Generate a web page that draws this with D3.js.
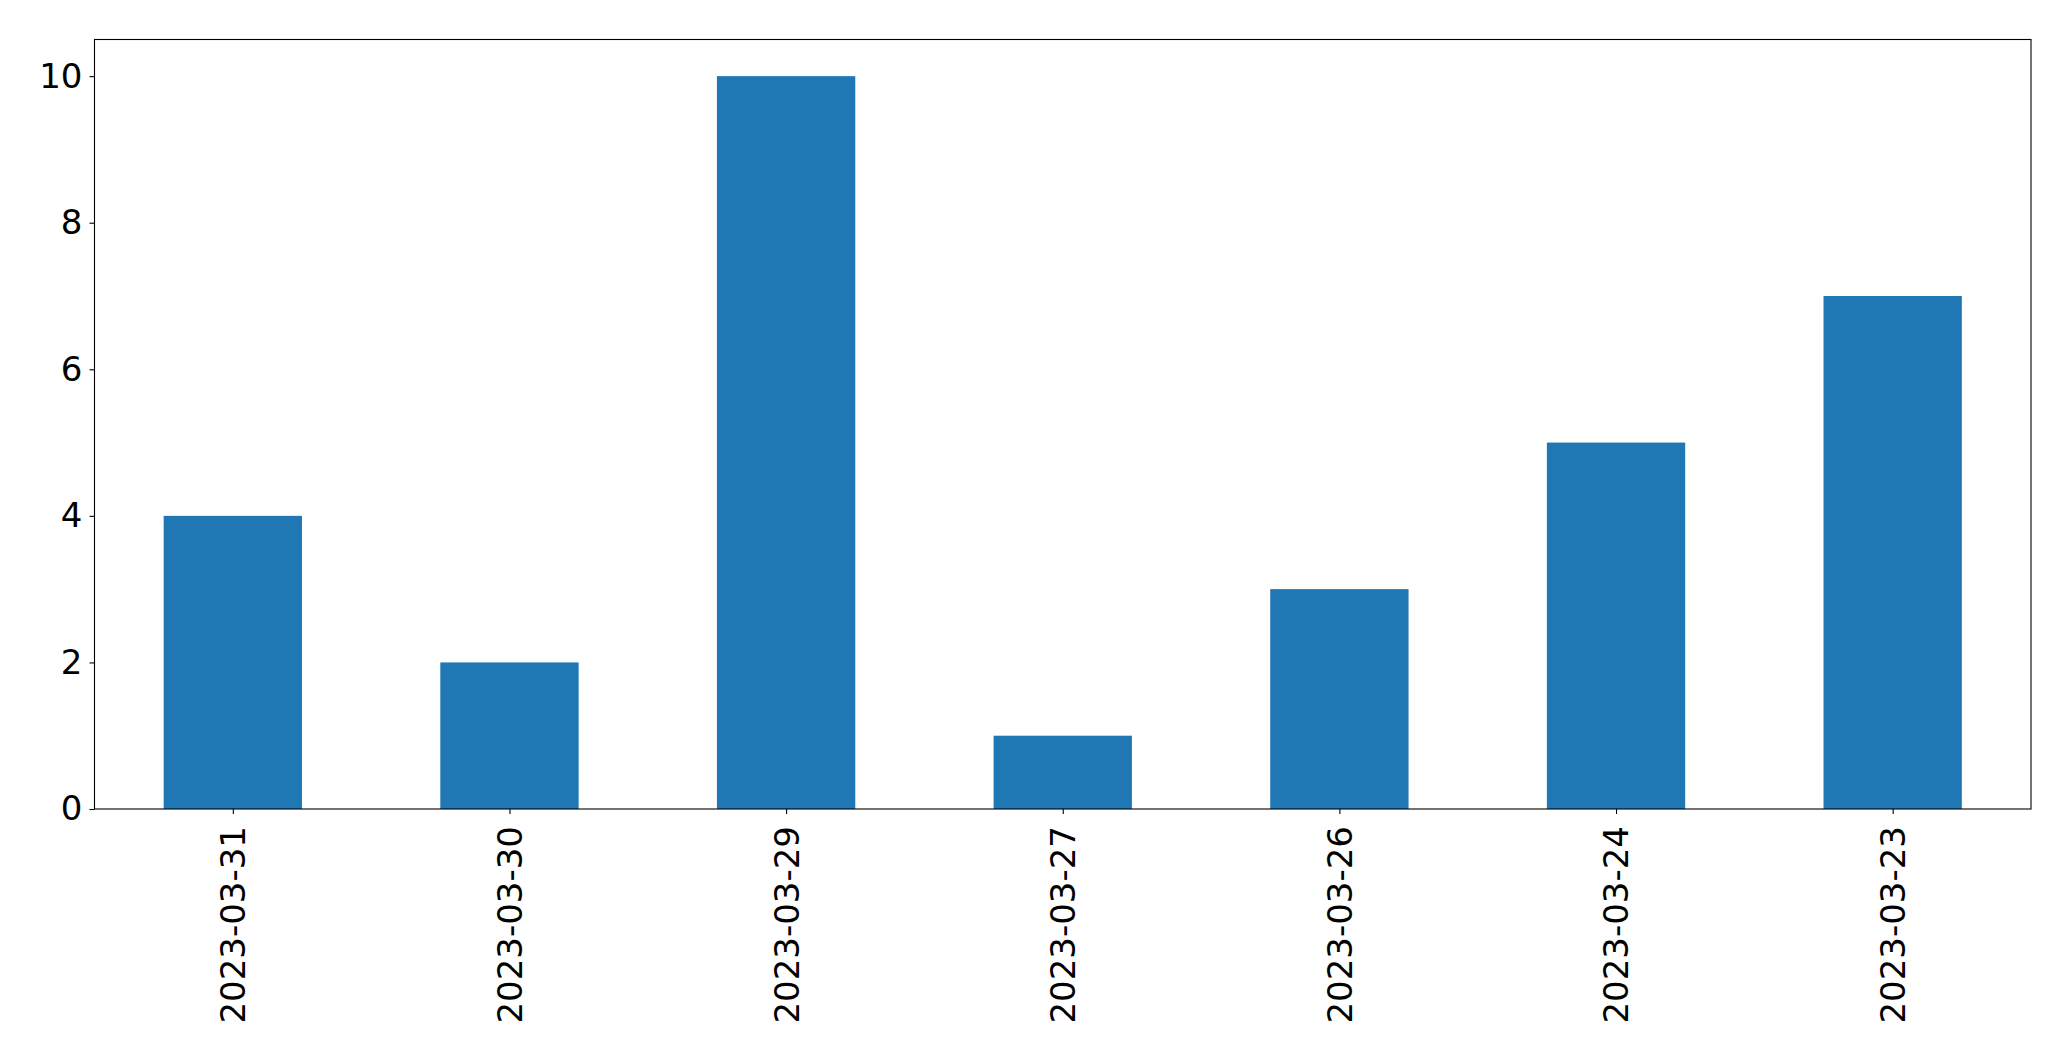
<!DOCTYPE html>
<html><head><meta charset="utf-8">
<script src="https://cdn.jsdelivr.net/npm/d3@7"></script>
<style>body{margin:0;background:#fff}svg{display:block}</style>
</head><body>
<script>
const categories = ["2023-03-31","2023-03-30","2023-03-29","2023-03-27","2023-03-26","2023-03-24","2023-03-23"];
const values = [4,2,10,1,3,5,7];
const yTicks = [0,2,4,6,8,10];

const W = 2071, H = 1061;
const m = {left: 94.5, right: 2031, top: 39.5, bottom: 809};
const svg = d3.select("body").append("svg").attr("width", W).attr("height", H);

const x = d3.scaleLinear().domain([-0.5, categories.length - 0.5]).range([m.left, m.right]);
const y = d3.scaleLinear().domain([0, 10.5]).range([m.bottom, m.top]);
const barW = 0.5;

svg.append("g").selectAll("rect").data(values).join("rect")
  .attr("x", (d,i) => x(i - barW/2))
  .attr("width", (d,i) => x(i + barW/2) - x(i - barW/2))
  .attr("y", d => y(d))
  .attr("height", d => y(0) - y(d))
  .attr("fill", "#1f77b4");

const font = "DejaVu Sans";
const xAxis = d3.axisBottom(x).tickValues(d3.range(categories.length)).tickFormat(i => categories[i]).tickSize(5).tickPadding(7);
const gx = svg.append("g").attr("transform", `translate(0,${m.bottom})`).call(xAxis);
gx.select(".domain").remove();
gx.selectAll("line").attr("stroke", "#000").attr("stroke-width", 1.1);
gx.selectAll("text")
  .attr("font-family", font).attr("font-size", 34).attr("fill", "#000")
  .attr("transform", "rotate(-90)")
  .attr("text-anchor", "end")
  .attr("x", -17).attr("y", 0).attr("dy", "0.35em");

const yAxis = d3.axisLeft(y).tickValues(yTicks).tickFormat(d3.format("d")).tickSize(5).tickPadding(7);
const gy = svg.append("g").attr("transform", `translate(${m.left},0)`).call(yAxis);
gy.select(".domain").remove();
gy.selectAll("line").attr("stroke", "#000").attr("stroke-width", 1.1);
gy.selectAll("text").attr("font-family", font).attr("font-size", 34).attr("fill", "#000");

svg.append("rect").attr("x", m.left).attr("y", m.top)
  .attr("width", m.right - m.left).attr("height", m.bottom - m.top)
  .attr("fill", "none").attr("stroke", "#000").attr("stroke-width", 1.1);
</script>
</body></html>
